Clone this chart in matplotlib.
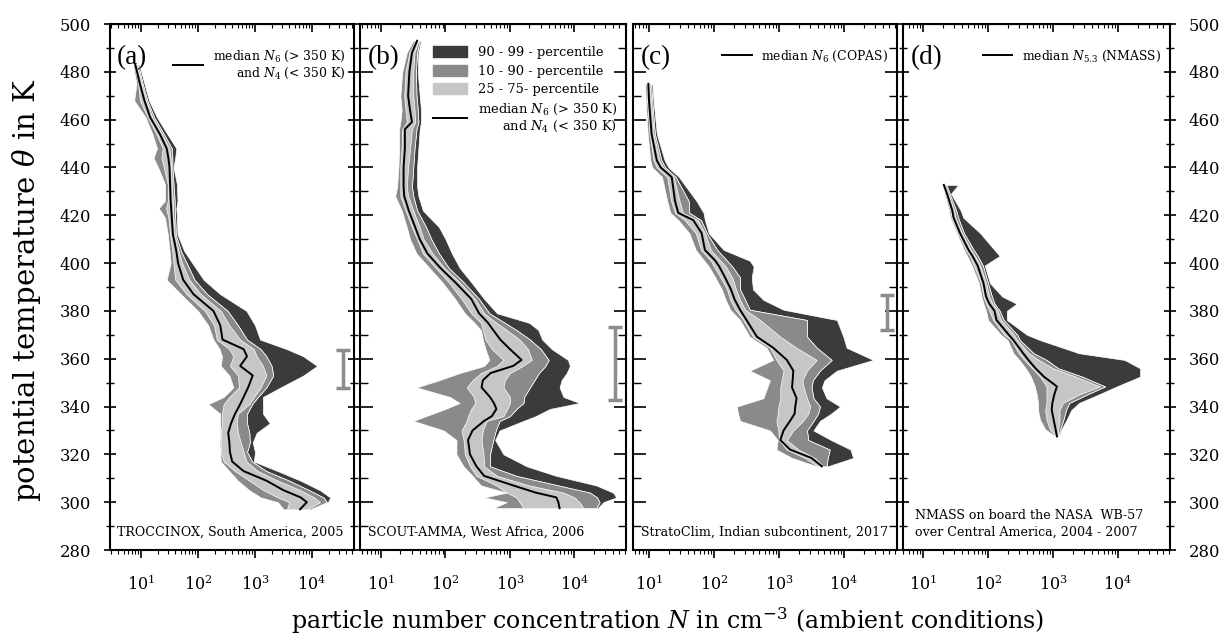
import numpy as np
import matplotlib
matplotlib.use('Agg')
import matplotlib.pyplot as plt
from matplotlib.lines import Line2D
from matplotlib.patches import Patch
from matplotlib.ticker import MultipleLocator, LogLocator, NullFormatter

plt.rcParams['font.family'] = 'DejaVu Serif'
plt.rcParams['mathtext.fontset'] = 'dejavuserif'

# percentile profiles, values are log10(N / cm^-3) per theta level (K)
# (a) TROCCINOX
a_theta = [483, 475, 468, 461, 454, 448, 444, 440, 433, 426, 423, 419, 412, 405, 400, 393, 387, 380,
           374, 368, 364, 361, 357, 353, 348, 344, 341, 337, 333, 329, 325, 321, 317, 313, 309, 305,
           302, 300, 297]
a_p10 = [0.86, 0.92, 0.88, 1.08, 1.20, 1.28, 1.22, 1.30, 1.42, 1.42, 1.31, 1.42, 1.47, 1.50, 1.52, 1.45,
         1.70, 2.00, 2.18, 2.27, 2.38, 2.42, 2.40, 2.55, 2.62, 2.45, 2.18, 2.39, 2.39, 2.39, 2.38, 2.39,
         2.40, 2.55, 2.70, 2.90, 3.10, 3.40, 3.50]
a_p25 = [0.88, 0.95, 0.98, 1.12, 1.27, 1.38, 1.36, 1.40, 1.47, 1.47, 1.44, 1.48, 1.51, 1.55, 1.57, 1.60,
         1.80, 2.12, 2.28, 2.33, 2.55, 2.62, 2.56, 2.70, 2.72, 2.55, 2.45, 2.42, 2.42, 2.40, 2.40, 2.40,
         2.45, 2.65, 2.90, 3.15, 3.40, 3.60, 3.56]
a_med = [0.90, 0.98, 1.06, 1.16, 1.33, 1.45, 1.48, 1.50, 1.51, 1.52, 1.53, 1.54, 1.56, 1.62, 1.65, 1.74,
         1.92, 2.27, 2.39, 2.43, 2.80, 2.86, 2.74, 2.96, 2.88, 2.80, 2.74, 2.65, 2.58, 2.53, 2.55, 2.56,
         2.60, 2.80, 3.20, 3.50, 3.80, 3.91, 3.79]
a_p75 = [0.93, 1.01, 1.09, 1.20, 1.37, 1.50, 1.52, 1.53, 1.54, 1.56, 1.56, 1.57, 1.59, 1.66, 1.72, 1.85,
         2.05, 2.40, 2.55, 2.74, 2.98, 3.03, 3.14, 3.20, 3.10, 2.98, 2.90, 2.70, 2.68, 2.70, 2.75, 2.80,
         2.85, 3.05, 3.40, 3.80, 4.04, 4.14, 3.91]
a_p90 = [0.95, 1.03, 1.11, 1.23, 1.40, 1.54, 1.55, 1.55, 1.57, 1.59, 1.59, 1.60, 1.61, 1.70, 1.80, 1.94,
         2.16, 2.52, 2.70, 2.86, 3.10, 3.20, 3.29, 3.32, 3.20, 3.05, 2.95, 2.86, 2.86, 2.90, 2.91, 2.86,
         2.95, 3.20, 3.60, 3.95, 4.20, 4.26, 3.96]
a_p99 = [0.97, 1.06, 1.14, 1.28, 1.46, 1.62, 1.60, 1.57, 1.63, 1.64, 1.62, 1.63, 1.64, 1.76, 1.90, 2.10,
         2.39, 2.85, 3.00, 3.09, 3.56, 3.85, 4.09, 3.85, 3.45, 3.14, 3.14, 3.14, 3.26, 3.03, 2.96, 3.00,
         2.98, 3.40, 3.80, 4.14, 4.32, 4.28, 3.98]

# (b) SCOUT-AMMA
b_theta = [493, 488, 480, 470, 464, 459, 456, 448, 440, 432, 428, 422, 415, 410, 404, 398, 392, 385,
           379, 375, 372, 368, 364, 359.5, 357, 354, 351, 348, 344, 341.5, 339, 336, 334, 330, 326,
           320, 315, 311, 307, 304, 302, 300, 297.5]
b_p10 = [1.50, 1.40, 1.33, 1.30, 1.32, 1.30, 1.28, 1.28, 1.27, 1.25, 1.22, 1.32, 1.40, 1.45, 1.55, 1.75,
         1.95, 2.15, 2.30, 2.45, 2.55, 2.58, 2.62, 2.68, 2.60, 2.22, 1.90, 1.55, 2.07, 2.22, 2.00, 1.70,
         1.50, 1.97, 2.17, 2.17, 2.28, 2.42, 2.55, 2.95, 2.60, 2.95, 2.74]
b_p25 = [1.53, 1.44, 1.38, 1.36, 1.38, 1.40, 1.33, 1.32, 1.30, 1.30, 1.30, 1.38, 1.48, 1.56, 1.65, 1.85,
         2.05, 2.25, 2.40, 2.55, 2.58, 2.62, 2.72, 2.90, 2.80, 2.55, 2.42, 2.33, 2.44, 2.46, 2.40, 2.35,
         2.33, 2.25, 2.28, 2.30, 2.38, 2.48, 2.79, 2.95, 3.10, 3.15, 3.21]
b_med = [1.56, 1.48, 1.44, 1.42, 1.45, 1.48, 1.37, 1.37, 1.35, 1.35, 1.36, 1.43, 1.53, 1.60, 1.72, 1.92,
         2.15, 2.40, 2.52, 2.66, 2.74, 2.85, 3.00, 3.18, 3.05, 2.70, 2.58, 2.56, 2.69, 2.75, 2.79, 2.72,
         2.60, 2.42, 2.35, 2.38, 2.48, 2.60, 3.05, 3.40, 3.72, 3.75, 3.77]
b_p75 = [1.58, 1.52, 1.50, 1.50, 1.52, 1.53, 1.48, 1.45, 1.42, 1.40, 1.42, 1.50, 1.60, 1.66, 1.80, 1.98,
         2.22, 2.46, 2.60, 2.79, 2.95, 3.15, 3.28, 3.34, 3.20, 3.00, 2.92, 2.90, 3.00, 3.00, 2.96, 2.90,
         2.64, 2.58, 2.56, 2.59, 2.60, 2.80, 3.30, 3.83, 4.00, 4.08, 4.14]
b_p90 = [1.60, 1.56, 1.54, 1.55, 1.57, 1.58, 1.55, 1.52, 1.50, 1.48, 1.50, 1.56, 1.70, 1.78, 1.90, 2.05,
         2.28, 2.52, 2.68, 2.92, 3.10, 3.31, 3.48, 3.60, 3.55, 3.45, 3.38, 3.31, 3.22, 3.21, 3.10, 3.00,
         2.84, 2.78, 2.74, 2.69, 2.69, 3.10, 3.75, 4.24, 4.35, 4.39, 4.34]
b_p99 = [1.62, 1.58, 1.57, 1.60, 1.62, 1.62, 1.60, 1.58, 1.56, 1.56, 1.58, 1.65, 1.90, 2.00, 2.10, 2.22,
         2.40, 2.60, 2.80, 3.30, 3.44, 3.50, 3.65, 3.90, 3.93, 3.88, 3.80, 3.77, 3.83, 4.08, 3.62, 3.40,
         3.21, 2.84, 2.77, 2.90, 3.26, 3.72, 4.34, 4.60, 4.65, 4.45, 4.36]

# (c) StratoClim
c_theta = [475, 468, 454, 443, 440, 436, 426, 421, 418, 412.5, 405.5, 401, 398.6, 394, 389, 384.6,
           380.5, 376.2, 369.2, 364.6, 359.5, 355, 351, 348, 343.5, 340, 337, 334, 330, 326, 322,
           318.5, 315]
c_p10 = [0.94, 0.95, 0.98, 1.02, 1.05, 1.20, 1.28, 1.33, 1.45, 1.62, 1.72, 1.85, 1.92, 2.02, 2.12, 2.18,
         2.25, 2.40, 2.55, 2.81, 2.91, 2.55, 2.86, 2.82, 2.76, 2.35, 2.37, 2.40, 2.86, 2.98, 2.96,
         3.20, 3.58]
c_p25 = [0.96, 0.97, 1.01, 1.07, 1.12, 1.28, 1.34, 1.40, 1.55, 1.72, 1.80, 1.95, 2.00, 2.10, 2.20, 2.25,
         2.33, 2.45, 2.60, 2.86, 2.96, 3.07, 3.04, 3.02, 3.02, 2.99, 2.98, 2.96, 2.99, 3.00, 3.12,
         3.40, 3.60]
c_med = [0.99, 1.00, 1.04, 1.12, 1.18, 1.35, 1.40, 1.45, 1.68, 1.81, 1.86, 2.02, 2.08, 2.17, 2.26, 2.32,
         2.40, 2.50, 2.66, 2.91, 3.12, 3.22, 3.21, 3.20, 3.27, 3.25, 3.24, 3.17, 3.07, 3.02, 3.17,
         3.50, 3.66]
c_p75 = [1.01, 1.03, 1.07, 1.16, 1.22, 1.38, 1.47, 1.52, 1.75, 1.86, 1.95, 2.10, 2.18, 2.28, 2.34, 2.40,
         2.48, 2.71, 3.02, 3.27, 3.58, 3.43, 3.36, 3.38, 3.43, 3.48, 3.45, 3.37, 3.22, 3.12, 3.30,
         3.55, 3.68]
c_p90 = [1.03, 1.05, 1.09, 1.19, 1.25, 1.41, 1.61, 1.62, 1.80, 1.89, 2.05, 2.20, 2.28, 2.40, 2.40, 2.48,
         2.55, 3.43, 3.43, 3.58, 3.81, 3.63, 3.52, 3.50, 3.53, 3.63, 3.60, 3.53, 3.43, 3.45, 3.78,
         3.75, 3.73]
c_p99 = [1.05, 1.07, 1.12, 1.24, 1.30, 1.46, 1.73, 1.84, 1.86, 1.92, 2.15, 2.55, 2.61, 2.58, 2.60, 2.76,
         3.07, 3.89, 3.99, 4.04, 4.45, 3.89, 3.70, 3.66, 3.73, 3.94, 3.80, 3.63, 3.53, 3.80, 4.10,
         4.14, 3.75]

# (d) NMASS on WB-57
d_theta = [432.7, 429, 422, 419, 412.5, 405.5, 403, 399, 391.6, 386, 383, 380, 376.2, 370, 367.8,
           362.3, 359.5, 356, 352.5, 348.4, 345, 341.5, 338.5, 334.5, 330.5, 327.5]
d_p10 = [1.30, 1.33, 1.40, 1.42, 1.52, 1.63, 1.68, 1.75, 1.86, 1.90, 1.93, 1.97, 2.00, 2.20, 2.30,
         2.39, 2.48, 2.58, 2.66, 2.72, 2.75, 2.77, 2.77, 2.80, 2.88, 3.04]
d_p25 = [1.31, 1.35, 1.42, 1.44, 1.54, 1.66, 1.72, 1.78, 1.89, 1.93, 1.97, 2.02, 2.08, 2.25, 2.36,
         2.47, 2.56, 2.68, 2.80, 2.90, 2.90, 2.90, 2.88, 2.90, 2.95, 3.05]
d_med = [1.32, 1.37, 1.45, 1.47, 1.57, 1.70, 1.76, 1.84, 1.93, 1.97, 2.02, 2.10, 2.13, 2.32, 2.39,
         2.54, 2.62, 2.73, 2.86, 3.06, 3.02, 2.99, 2.98, 3.01, 3.04, 3.06]
d_p75 = [1.34, 1.39, 1.48, 1.50, 1.60, 1.74, 1.80, 1.88, 1.97, 2.02, 2.07, 2.15, 2.20, 2.40, 2.45,
         2.63, 2.78, 3.00, 3.35, 3.72, 3.40, 3.15, 3.10, 3.10, 3.08, 3.07]
d_p90 = [1.36, 1.41, 1.51, 1.54, 1.63, 1.78, 1.84, 1.92, 2.00, 2.06, 2.10, 2.18, 2.24, 2.45, 2.49,
         2.70, 2.90, 3.08, 3.45, 3.80, 3.52, 3.25, 3.20, 3.16, 3.11, 3.08]
d_p99 = [1.54, 1.43, 1.58, 1.62, 1.88, 2.10, 2.18, 1.95, 2.03, 2.22, 2.44, 2.29, 2.29, 2.60, 2.80,
         3.40, 4.10, 4.34, 4.34, 3.98, 3.70, 3.40, 3.28, 3.21, 3.13, 3.09]

# vertical bars (theta centre, half range) drawn near right edge of a-c
bar_x = [3.5e4, 4.3e4, 4.6e4]
bar_theta = [355.7, 358.0, 379.3]
bar_half = [8.0, 15.3, 7.3]

panels = [
    ('(a)', a_theta, a_p10, a_p25, a_med, a_p75, a_p90, a_p99, 'TROCCINOX, South America, 2005'),
    ('(b)', b_theta, b_p10, b_p25, b_med, b_p75, b_p90, b_p99, 'SCOUT-AMMA, West Africa, 2006'),
    ('(c)', c_theta, c_p10, c_p25, c_med, c_p75, c_p90, c_p99, 'StratoClim, Indian subcontinent, 2017'),
    ('(d)', d_theta, d_p10, d_p25, d_med, d_p75, d_p90, d_p99,
     'NMASS on board the NASA  WB-57\nover Central America, 2004 - 2007'),
]

# axes boxes in pixels (left, right) and x limits (log10)
W, H = 1226, 644
boxes = [(110, 354), (360, 626), (633, 897), (903, 1170)]
xlims = [(0.456, 4.737), (0.674, 4.80), (0.754, 4.815), (0.692, 4.80)]
top_px, bot_px = 24, 550

dark, mid, light = '#3b3b3b', '#8a8a8a', '#c6c6c6'

fig = plt.figure(figsize=(W / 100, H / 100), dpi=100)
axes = []
for i, (lab, th, p10, p25, med, p75, p90, p99, note) in enumerate(panels):
    l, r = boxes[i]
    ax = fig.add_axes([l / W, (H - bot_px) / H, (r - l) / W, (bot_px - top_px) / H])
    axes.append(ax)
    th = np.array(th)
    ax.fill_betweenx(th, 10 ** np.array(p90), 10 ** np.array(p99), color=dark, ec='white', lw=0.5)
    ax.fill_betweenx(th, 10 ** np.array(p10), 10 ** np.array(p90), color=mid, ec='white', lw=0.5)
    ax.fill_betweenx(th, 10 ** np.array(p25), 10 ** np.array(p75), color=light, ec='white', lw=0.5)
    ax.plot(10 ** np.array(med), th, color='black', lw=1.4)

    ax.set_xscale('log')
    ax.set_xlim(10 ** xlims[i][0], 10 ** xlims[i][1])
    ax.set_ylim(280, 500)
    ax.yaxis.set_major_locator(MultipleLocator(20))
    ax.yaxis.set_minor_locator(MultipleLocator(10))
    ax.xaxis.set_major_locator(LogLocator(base=10, numticks=10))
    ax.xaxis.set_minor_locator(LogLocator(base=10, subs=np.arange(2, 10), numticks=20))
    ax.xaxis.set_minor_formatter(NullFormatter())
    ax.tick_params(axis='x', which='major', direction='out', length=6, width=1.2,
                   labelsize=11.5, pad=12, top=False)
    ax.tick_params(axis='x', which='minor', direction='out', length=3, width=0.8, top=False)
    ydir = 'inout' if i in (0, 3) else 'in'
    ax.tick_params(axis='y', which='major', direction=ydir, length=9, width=1.2,
                   left=True, right=True, labelleft=(i == 0), labelright=(i == 3),
                   labelsize=11.8, pad=9)
    ax.tick_params(axis='y', which='minor', direction=ydir, length=6, width=1.0,
                   left=True, right=True)
    for s in ax.spines.values():
        s.set_linewidth(1.5)
    sec = ax.secondary_xaxis('top')
    sec.tick_params(axis='x', which='major', direction='in', length=6, width=1.2, labeltop=False)
    sec.tick_params(axis='x', which='minor', direction='in', length=3, width=0.8)
    sec.xaxis.set_major_formatter(NullFormatter())
    sec.xaxis.set_minor_formatter(NullFormatter())

    ax.text(0.028, 0.96, lab, transform=ax.transAxes, va='top', ha='left',
            fontsize=19.5, family='Liberation Serif')
    ax.text(0.03 if i < 3 else 0.045, 0.022, note, transform=ax.transAxes, va='bottom', ha='left',
            fontsize=9.1, linespacing=1.3)

for i in range(3):
    axes[i].errorbar([bar_x[i]], [bar_theta[i]], yerr=[bar_half[i]], color='#8c8c8c',
                     elinewidth=2.5, capsize=5, capthick=2.5)

med_line = Line2D([0], [0], color='black', lw=1.4)
twolines = 'median $N_6$ (> 350 K)\nand $N_4$ (< 350 K)'

leg = axes[0].legend([med_line], [twolines], loc='upper right', frameon=False, fontsize=8.9,
                     handlelength=2.4, borderaxespad=0.3, bbox_to_anchor=(1.0, 0.97))
for t in leg.get_texts():
    t.set_multialignment('right')

leg = axes[1].legend([Patch(color=dark), Patch(color=mid), Patch(color=light), med_line],
                     ['90 - 99 - percentile', '10 - 90 - percentile', '25 - 75- percentile', twolines],
                     loc='upper right', frameon=False, fontsize=9.4, handlelength=2.6,
                     handleheight=0.9, labelspacing=0.42, borderaxespad=0.3,
                     bbox_to_anchor=(1.0, 0.975))
for t in leg.get_texts():
    t.set_multialignment('right')

axes[2].legend([med_line], ['median $N_6$ (COPAS)'], loc='upper right', frameon=False,
               fontsize=8.9, handlelength=2.4, borderaxespad=0.3, bbox_to_anchor=(1.0, 0.97))
axes[3].legend([med_line], ['median $N_{5.3}$ (NMASS)'], loc='upper right', frameon=False,
               fontsize=8.9, handlelength=2.4, borderaxespad=0.3, bbox_to_anchor=(1.0, 0.97))

fig.text(27 / W, 1 - 290 / H, 'potential temperature $\\theta$ in K', rotation=90,
         ha='center', va='center', fontsize=21)
fig.text(668 / W, 1 - 621 / H, 'particle number concentration $N$ in cm$^{-3}$ (ambient conditions)',
         ha='center', va='center', fontsize=17.1)

fig.savefig('out.png', dpi=100)
